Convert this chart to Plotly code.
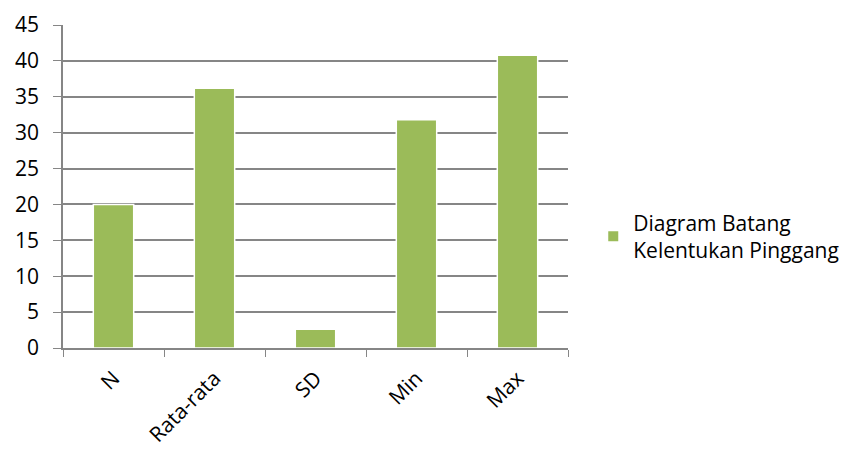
import plotly.graph_objects as go

categories = ["N", "Rata-rata", "SD", "Min", "Max"]
values = [20, 36.2, 2.6, 31.8, 40.8]
series_name = "Diagram Batang<br>Kelentukan Pinggang"
y_ticks = [0, 5, 10, 15, 20, 25, 30, 35, 40, 45]

FONT = "Open Sans"
FS = 21
fig = go.Figure()
fig.add_trace(go.Bar(
    x=categories, y=values, name=series_name,
    marker=dict(color="#9BBB59", line=dict(color="#FFFFFF", width=1.5)),
    width=0.4, showlegend=True,
))
fig.update_layout(
    width=863, height=450,
    margin=dict(l=63, r=295, t=25, b=102),
    paper_bgcolor="white", plot_bgcolor="white",
    font=dict(family=FONT, size=FS, color="#000000"),
    showlegend=True,
    legend=dict(x=1.05, y=0.345, xanchor="left", yanchor="middle",
                font=dict(family=FONT, size=FS), itemsizing="constant",
                bgcolor="rgba(0,0,0,0)"),
)
fig.update_xaxes(
    tickangle=-45, ticks="outside", tickson="boundaries", ticklen=7,
    tickcolor="#868686", showline=True, linecolor="#868686", linewidth=1.5,
    showgrid=False, tickfont=dict(family=FONT, size=FS), ticklabelstandoff=8,
    automargin=False,
)
fig.update_yaxes(
    range=[0, 45], tickvals=y_ticks, ticks="outside", ticklen=8,
    tickcolor="#868686", showline=True, linecolor="#868686", linewidth=1.5,
    showgrid=True, gridcolor="#868686", gridwidth=1.5, zeroline=False,
    tickfont=dict(family=FONT, size=FS), ticklabelstandoff=10,
    automargin=False,
)
fig.write_html("out.html")
